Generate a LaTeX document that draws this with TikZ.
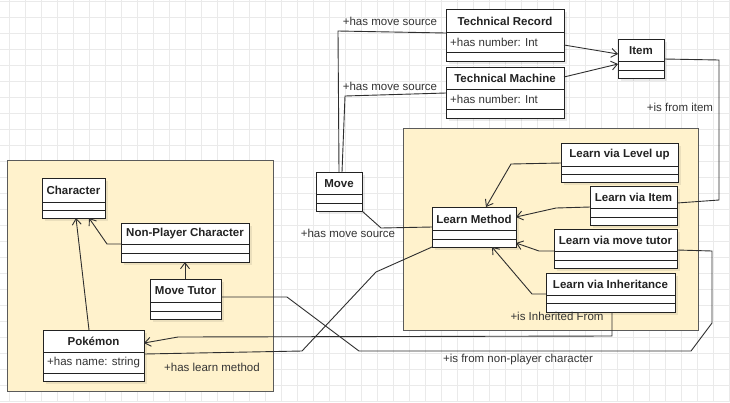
\documentclass[tikz,border=0pt]{standalone}
\usepackage{fontspec}
\setmainfont{Liberation Sans}
\usetikzlibrary{arrows.meta}
\definecolor{gridc}{HTML}{EAEAEA}
\definecolor{contfill}{HTML}{FFF2CC}
\definecolor{contdraw}{HTML}{5A5A5A}
\definecolor{boxc}{HTML}{222222}
\definecolor{linec}{HTML}{2E2E2E}
\definecolor{textc}{HTML}{333333}
\tikzset{
  umlbox/.style={draw=boxc, fill=white, line width=1pt, inner sep=0pt, outer sep=0pt},
  boxline/.style={draw=boxc, line width=1pt},
  umltitle/.style={font=\fontsize{11.5}{13}\selectfont\bfseries, text=boxc, inner sep=0pt},
  umlattr/.style={font=\fontsize{11.5}{13}\selectfont, text=textc, inner sep=0pt, anchor=west},
  lbl/.style={font=\fontsize{11.5}{13}\selectfont, text=textc, inner sep=0pt},
  conn/.style={draw=linec, line width=0.9pt},
  arr/.style={conn, -{Straight Barb[length=6pt,width=9pt]}},
  container/.style={draw=contdraw, fill=contfill, line width=1pt},
}
\newcommand\umlclass[8]{%
  \fill[black,opacity=0.08] (#2+3,#3+3) rectangle (#4+3,#5+3);
  \node[umlbox,minimum width={(#4-#2)*1pt},minimum height={(#5-#3)*1pt},anchor=north west] (#1) at (#2,#3) {};
  \draw[boxline] (#2,#6) -- (#4,#6) (#2,#7) -- (#4,#7);
  \node[umltitle] at ({(#2+#4)/2},{(#3+#6)/2+0.5}) {#8};
}
\begin{document}
\begin{tikzpicture}[x=1pt,y=-1pt]
\useasboundingbox (0,0) rectangle (730,402);
\fill[white] (0,0) rectangle (730,402);
% grid
\foreach \gx in {0,...,45} {\draw[gridc, line width=0.8pt] ({9.3+16*\gx},0) -- ({9.3+16*\gx},402);}
\foreach \gy in {0,...,25} {\draw[gridc, line width=0.8pt] (0,{1.3+16*\gy}) -- (730,{1.3+16*\gy});}
% containers
\node[container, minimum width=266pt, minimum height=231pt, anchor=north west, inner sep=0pt, outer sep=0pt] (leftgroup) at (7,160) {};
\node[container, minimum width=295pt, minimum height=202pt, anchor=north west, inner sep=0pt, outer sep=0pt] (rightgroup) at (403,128) {};
% classes
\umlclass{Character}{42}{178}{105}{218}{202}{210}{Character}
\umlclass{NPC}{121}{223}{249}{262}{244}{253}{Non-Player Character}
\umlclass{MoveTutor}{150}{279}{221}{319}{302}{311}{Move Tutor}
\umlclass{Pokemon}{43}{330}{144}{381}{352}{373}{Pokémon}
\node[umlattr] (pokattr) at (47,362.5) {+has name: string};
\umlclass{TR}{446}{9}{564}{61}{32}{52}{Technical Record}
\node[umlattr] (trattr) at (450,42.5) {+has number: Int};
\umlclass{TM}{446}{67}{564}{118}{89}{109}{Technical Machine}
\node[umlattr] (tmattr) at (450,99.5) {+has number: Int};
\umlclass{Item}{618}{39}{664}{78}{61}{70}{Item}
\umlclass{Move}{316}{172}{362}{211}{194}{203}{Move}
\umlclass{LM}{432}{207}{516}{247}{230}{239}{Learn Method}
\umlclass{LevelUp}{561}{143}{678}{182}{166}{174}{Learn via Level up}
\umlclass{LItem}{590}{186}{677}{225}{208}{217}{Learn via Item}
\umlclass{LTutor}{554}{229}{677}{268}{251}{260}{Learn via move tutor}
\umlclass{LInh}{546}{273}{675}{312}{295}{303}{Learn via Inheritance}
% connectors
\draw[conn] (TR.west |- 0,33) -- (338,31) -- (Move.north -| 339,0);
\draw[conn] (TM.west |- 0,93) -- (345,96) -- (Move.north -| 342,0);
\draw[arr] (TR.east |- 0,45) -- (Item.west |- 0,54);
\draw[arr] (TM.east |- 0,77) -- (Item.west |- 0,64);
\draw[conn] (Item.east |- 0,59) -- (719,60) -- (719,200) -- (LItem.east |- 0,203);
\draw[arr] (LevelUp.west |- 0,163) -- (511,164) -- (LM.north -| 486,0);
\draw[arr] (LItem.west |- 0,207) -- (556,208) -- (LM.east |- 0,217);
\draw[arr] (LTutor.west |- 0,251) -- (539,251) -- (LM.east |- 0,243);
\draw[arr] (LInh.west |- 0,294) -- (532,294) -- (LM.south -| 492,0);
\draw[conn] (Move.south east) -- (381,228) -- (LM.west |- 0,227);
\draw[conn] (LM.south west) -- (376,272) -- (302,351) -- (Pokemon.east |- 0,354);
\draw[conn] (MoveTutor.east |- 0,297) -- (287,297) -- (359,351) -- (691,351) -- (712,323) -- (712,251) -- (LTutor.east |- 0,250);
\draw[arr] (LInh.south -| 612,0) -- (612,336) -- (178,337) -- (Pokemon.east |- 0,343);
\draw[arr] (Pokemon.north -| 89,0) -- (Character.south -| 76,0);
\draw[arr] (NPC.west |- 0,244) -- (107,244) -- (Character.south -| 89,0);
\draw[arr] (MoveTutor.north -| 185,0) -- (NPC.south -| 185,0);
% labels
\node[lbl] (l1) at (390,21) {+has move source};
\node[lbl] (l2) at (390,86) {+has move source};
\node[lbl] (l3) at (680,107) {+is from item};
\node[lbl] (l4) at (348,233.5) {+has move source};
\node[lbl] (l5) at (212,367) {+has learn method};
\node[lbl] (l6) at (557,316) {+is Inherited From};
\node[lbl] (l7) at (518,359.5) {+is from non-player character};
\end{tikzpicture}
\end{document}
